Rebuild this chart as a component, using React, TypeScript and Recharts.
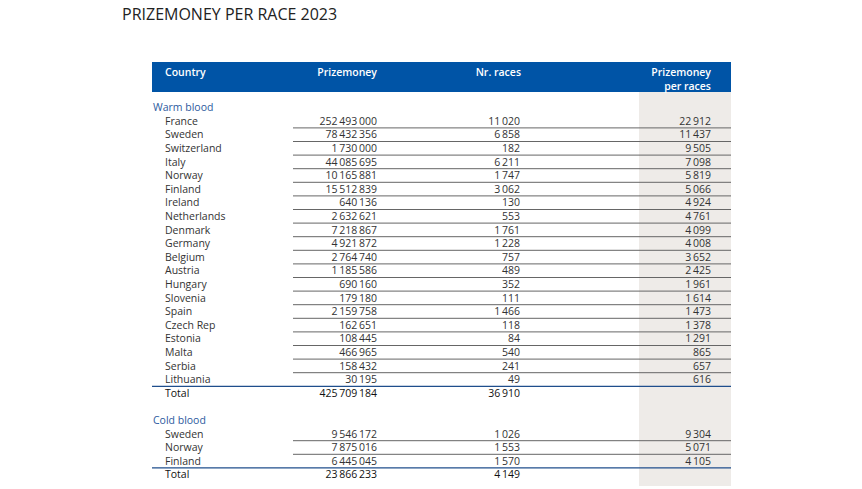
import React from "react";
import { ComposedChart, XAxis, YAxis } from "recharts";

const warmCountries = [
  "France", "Sweden", "Switzerland", "Italy", "Norway", "Finland", "Ireland",
  "Netherlands", "Denmark", "Germany", "Belgium", "Austria", "Hungary",
  "Slovenia", "Spain", "Czech Rep", "Estonia", "Malta", "Serbia", "Lithuania",
];
const warmPrize = [
  252493000, 78432356, 1730000, 44085695, 10165881, 15512839, 640136,
  2632621, 7218867, 4921872, 2764740, 1185586, 690160, 179180, 2159758,
  162651, 108445, 466965, 158432, 30195,
];
const warmRaces = [
  11020, 6858, 182, 6211, 1747, 3062, 130, 553, 1761, 1228, 757, 489, 352,
  111, 1466, 118, 84, 540, 241, 49,
];
const warmPerRace = [
  22912, 11437, 9505, 7098, 5819, 5066, 4924, 4761, 4099, 4008, 3652, 2425,
  1961, 1614, 1473, 1378, 1291, 865, 657, 616,
];
const warmTotal = [425709184, 36910];

const coldCountries = ["Sweden", "Norway", "Finland"];
const coldPrize = [9546172, 7875016, 6445045];
const coldRaces = [1026, 1553, 1570];
const coldPerRace = [9304, 5071, 4105];
const coldTotal = [23866233, 4149];

type Row = {
  key: string;
  kind: "section" | "data" | "total" | "blank";
  name: string;
  prize?: number;
  races?: number;
  perRace?: number;
  last?: boolean;
};

function group(
  id: string,
  title: string,
  names: string[],
  prize: number[],
  races: number[],
  perRace: number[],
  total: number[]
): Row[] {
  const rows: Row[] = [{ key: id + "-title", kind: "section", name: title }];
  names.forEach((n, i) =>
    rows.push({
      key: id + "-" + n,
      kind: "data",
      name: n,
      prize: prize[i],
      races: races[i],
      perRace: perRace[i],
      last: i === names.length - 1,
    })
  );
  rows.push({ key: id + "-total", kind: "total", name: "Total", prize: total[0], races: total[1] });
  return rows;
}

const rows: Row[] = [
  ...group("w", "Warm blood", warmCountries, warmPrize, warmRaces, warmPerRace, warmTotal),
  { key: "gap", kind: "blank", name: "" },
  ...group("c", "Cold blood", coldCountries, coldPrize, coldRaces, coldPerRace, coldTotal),
];
const byKey: Record<string, Row> = {};
rows.forEach((r) => (byKey[r.key] = r));

const fmt = (v?: number) =>
  v === undefined ? "" : String(v).replace(/\B(?=(\d{3})+(?!\d))/g, "\u2009");

const FONT = "'Open Sans', sans-serif";
const BLUE = "#0054a6";
const TEXT = "#333";

const RowTick = (props: any) => {
  const { y, payload } = props;
  const r = byKey[payload.value];
  if (!r || r.kind === "blank") return <g />;
  if (r.kind === "section") {
    return (
      <text x={153} y={y} dy="0.35em" fontSize={10.5} fill="#2d5a9e" fontFamily={FONT}>
        {r.name}
      </text>
    );
  }
  const color = r.kind === "total" ? "#111" : TEXT;
  const lineY = y + 6.8;
  return (
    <g fontFamily={FONT} fontSize={10.5} fill={color}>
      <text x={165} y={y} dy="0.35em">{r.name}</text>
      <text x={377} y={y} dy="0.35em" textAnchor="end">{fmt(r.prize)}</text>
      <text x={520} y={y} dy="0.35em" textAnchor="end">{fmt(r.races)}</text>
      <text x={711} y={y} dy="0.35em" textAnchor="end">{fmt(r.perRace)}</text>
      {r.kind === "data" &&
        (r.last ? (
          <line x1={152} x2={731} y1={lineY} y2={lineY} stroke="#1f4e8c" strokeWidth={1.2} />
        ) : (
          <line x1={293} x2={731} y1={lineY} y2={lineY} stroke="#666" strokeWidth={1} />
        ))}
    </g>
  );
};

const headStyle: React.CSSProperties = {
  position: "absolute",
  color: "#fff",
  fontWeight: 600,
  fontSize: 10.5,
  lineHeight: "14px",
  fontFamily: FONT,
};

export default function App() {
  return (
    <div style={{ position: "absolute", left: 0, top: 0, width: 862, height: 489, background: "#fff", overflow: "hidden" }}>
      <div
        style={{
          position: "absolute", left: 122, top: 3, fontSize: 16, lineHeight: "22px",
          fontFamily: FONT, color: "#222",
        }}
      >
        PRIZEMONEY PER RACE 2023
      </div>
      <div style={{ position: "absolute", left: 152, top: 62, width: 579, height: 30, background: BLUE }} />
      <div style={{ position: "absolute", left: 639, top: 92, width: 92, height: 394, background: "#eeebe8" }} />
      <div style={{ ...headStyle, left: 165, top: 65 }}>Country</div>
      <div style={{ ...headStyle, right: 862 - 377, top: 65, textAlign: "right" }}>Prizemoney</div>
      <div style={{ ...headStyle, right: 862 - 521, top: 65, textAlign: "right" }}>Nr. races</div>
      <div style={{ ...headStyle, right: 862 - 711, top: 65, textAlign: "right" }}>
        Prizemoney
        <br />
        per races
      </div>
      <div style={{ position: "absolute", left: 0, top: 0 }}>
        <ComposedChart
          width={862}
          height={489}
          data={rows}
          layout="vertical"
          margin={{ top: 107.5, right: 20, bottom: 14.3, left: 0 }}
        >
          <XAxis type="number" hide domain={[0, 1]} />
          <YAxis
            type="category"
            dataKey="key"
            interval={0}
            width={150}
            axisLine={false}
            tickLine={false}
            tick={<RowTick />}
          />
        </ComposedChart>
      </div>
    </div>
  );
}
